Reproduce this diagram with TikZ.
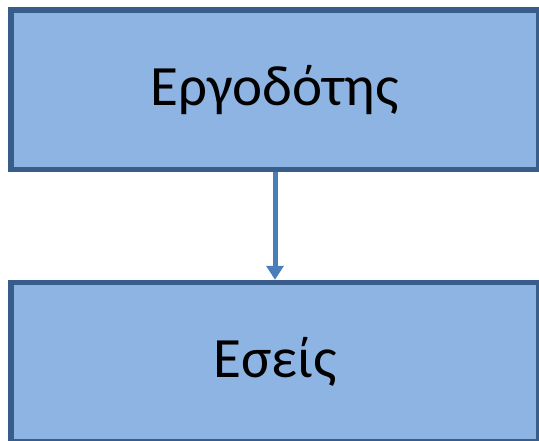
\documentclass[tikz,border=0pt]{standalone}
\usepackage{fontspec}
\setmainfont{Carlito}
\usetikzlibrary{arrows.meta}
\definecolor{boxfill}{HTML}{8EB4E3}
\definecolor{boxedge}{HTML}{385D8A}
\definecolor{arrowcol}{HTML}{4A7EBB}
\begin{document}
\begin{tikzpicture}[x=1pt,y=-1pt,
  box/.style={draw=boxedge, fill=boxfill, line width=5.5pt, minimum width=528pt, inner sep=0pt,
    font=\fontsize{57}{60}\selectfont, text=black},
  conn/.style={draw=arrowcol, line width=5pt, -{Triangle[length=14pt,width=17pt]}}]
\useasboundingbox (0,0) rectangle (539,440);
\clip (0,0) rectangle (539,440);
\node[box, minimum height=159.5pt] (emp) at (275,89.75) {Εργοδότης};
\node[box, minimum height=159.5pt] (you) at (275,362.25) {\raisebox{-4pt}{Εσείς}};
\draw[conn] (emp.south) -- (you.north);
\end{tikzpicture}
\end{document}
